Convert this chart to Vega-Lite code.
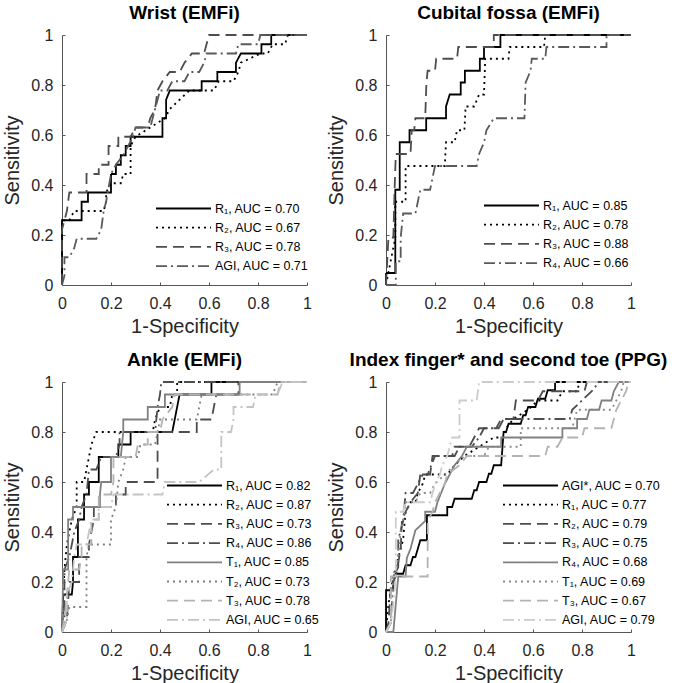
{
  "$schema": "https://vega.github.io/schema/vega-lite/v6.json",
  "background": "white",
  "padding": {"left": 2, "top": 4, "right": 4, "bottom": 2},
  "datasets": {
    "labels": [
      {"s": "W1", "p": "W", "label": "R₁, AUC = 0.70"},
      {"s": "W2", "p": "W", "label": "R₂, AUC = 0.67"},
      {"s": "W3", "p": "W", "label": "R₃, AUC = 0.78"},
      {"s": "W4", "p": "W", "label": "AGI, AUC = 0.71"},
      {"s": "C1", "p": "C", "label": "R₁, AUC = 0.85"},
      {"s": "C2", "p": "C", "label": "R₂, AUC = 0.78"},
      {"s": "C3", "p": "C", "label": "R₃, AUC = 0.88"},
      {"s": "C4", "p": "C", "label": "R₄, AUC = 0.66"},
      {"s": "A1", "p": "A", "label": "R₁, AUC = 0.82"},
      {"s": "A2", "p": "A", "label": "R₂, AUC = 0.87"},
      {"s": "A3", "p": "A", "label": "R₃, AUC = 0.73"},
      {"s": "A4", "p": "A", "label": "R₄, AUC = 0.86"},
      {"s": "A5", "p": "A", "label": "T₁, AUC = 0.85"},
      {"s": "A6", "p": "A", "label": "T₂, AUC = 0.73"},
      {"s": "A7", "p": "A", "label": "T₃, AUC = 0.78"},
      {"s": "A8", "p": "A", "label": "AGI, AUC = 0.65"},
      {"s": "P1", "p": "P", "label": "AGI*, AUC = 0.70"},
      {"s": "P2", "p": "P", "label": "R₁, AUC = 0.77"},
      {"s": "P3", "p": "P", "label": "R₂, AUC = 0.79"},
      {"s": "P4", "p": "P", "label": "R₃, AUC = 0.75"},
      {"s": "P5", "p": "P", "label": "R₄, AUC = 0.68"},
      {"s": "P6", "p": "P", "label": "T₁, AUC = 0.69"},
      {"s": "P7", "p": "P", "label": "T₃, AUC = 0.67"},
      {"s": "P8", "p": "P", "label": "AGI, AUC = 0.79"}
    ],
    "roc": [
      {"s":"W1","x":0,"y":0},{"s":"W1","x":0,"y":0.259},{"s":"W1","x":0.08,"y":0.259},{"s":"W1","x":0.08,"y":0.333},{"s":"W1","x":0.106,"y":0.333},{"s":"W1","x":0.106,"y":0.37},{"s":"W1","x":0.2,"y":0.37},{"s":"W1","x":0.2,"y":0.444},{"s":"W1","x":0.22,"y":0.444},{"s":"W1","x":0.22,"y":0.481},{"s":"W1","x":0.24,"y":0.481},{"s":"W1","x":0.24,"y":0.519},{"s":"W1","x":0.26,"y":0.519},{"s":"W1","x":0.26,"y":0.556},{"s":"W1","x":0.28,"y":0.556},{"s":"W1","x":0.28,"y":0.593},{"s":"W1","x":0.41,"y":0.593},{"s":"W1","x":0.41,"y":0.667},{"s":"W1","x":0.425,"y":0.667},{"s":"W1","x":0.425,"y":0.741},{"s":"W1","x":0.44,"y":0.778},{"s":"W1","x":0.57,"y":0.778},{"s":"W1","x":0.57,"y":0.815},{"s":"W1","x":0.634,"y":0.815},{"s":"W1","x":0.634,"y":0.852},{"s":"W1","x":0.71,"y":0.852},{"s":"W1","x":0.71,"y":0.889},{"s":"W1","x":0.73,"y":0.926},{"s":"W1","x":0.814,"y":0.926},{"s":"W1","x":0.814,"y":0.963},{"s":"W1","x":0.854,"y":0.963},{"s":"W1","x":0.854,"y":1},{"s":"W1","x":1,"y":1},
      {"s":"W2","x":0,"y":0},{"s":"W2","x":0,"y":0.259},{"s":"W2","x":0.03,"y":0.259},{"s":"W2","x":0.05,"y":0.296},{"s":"W2","x":0.17,"y":0.296},{"s":"W2","x":0.18,"y":0.333},{"s":"W2","x":0.18,"y":0.37},{"s":"W2","x":0.2,"y":0.407},{"s":"W2","x":0.24,"y":0.407},{"s":"W2","x":0.25,"y":0.444},{"s":"W2","x":0.28,"y":0.444},{"s":"W2","x":0.28,"y":0.556},{"s":"W2","x":0.3,"y":0.593},{"s":"W2","x":0.36,"y":0.63},{"s":"W2","x":0.42,"y":0.667},{"s":"W2","x":0.44,"y":0.704},{"s":"W2","x":0.48,"y":0.741},{"s":"W2","x":0.52,"y":0.778},{"s":"W2","x":0.62,"y":0.778},{"s":"W2","x":0.64,"y":0.815},{"s":"W2","x":0.7,"y":0.815},{"s":"W2","x":0.72,"y":0.852},{"s":"W2","x":0.73,"y":0.889},{"s":"W2","x":0.81,"y":0.926},{"s":"W2","x":0.84,"y":0.926},{"s":"W2","x":0.86,"y":0.963},{"s":"W2","x":0.91,"y":0.963},{"s":"W2","x":0.922,"y":1},{"s":"W2","x":1,"y":1},
      {"s":"W3","x":0,"y":0},{"s":"W3","x":0,"y":0.222},{"s":"W3","x":0.02,"y":0.296},{"s":"W3","x":0.03,"y":0.37},{"s":"W3","x":0.1,"y":0.37},{"s":"W3","x":0.1,"y":0.444},{"s":"W3","x":0.15,"y":0.444},{"s":"W3","x":0.15,"y":0.481},{"s":"W3","x":0.19,"y":0.481},{"s":"W3","x":0.19,"y":0.556},{"s":"W3","x":0.23,"y":0.556},{"s":"W3","x":0.23,"y":0.593},{"s":"W3","x":0.28,"y":0.593},{"s":"W3","x":0.3,"y":0.63},{"s":"W3","x":0.35,"y":0.63},{"s":"W3","x":0.36,"y":0.667},{"s":"W3","x":0.38,"y":0.704},{"s":"W3","x":0.39,"y":0.778},{"s":"W3","x":0.41,"y":0.815},{"s":"W3","x":0.44,"y":0.852},{"s":"W3","x":0.48,"y":0.852},{"s":"W3","x":0.5,"y":0.889},{"s":"W3","x":0.53,"y":0.926},{"s":"W3","x":0.58,"y":0.926},{"s":"W3","x":0.59,"y":0.963},{"s":"W3","x":0.6,"y":1},{"s":"W3","x":1,"y":1},
      {"s":"W4","x":0,"y":0},{"s":"W4","x":0.01,"y":0.037},{"s":"W4","x":0.01,"y":0.111},{"s":"W4","x":0.03,"y":0.111},{"s":"W4","x":0.05,"y":0.148},{"s":"W4","x":0.06,"y":0.185},{"s":"W4","x":0.14,"y":0.185},{"s":"W4","x":0.16,"y":0.222},{"s":"W4","x":0.17,"y":0.296},{"s":"W4","x":0.18,"y":0.333},{"s":"W4","x":0.2,"y":0.444},{"s":"W4","x":0.22,"y":0.481},{"s":"W4","x":0.25,"y":0.519},{"s":"W4","x":0.27,"y":0.556},{"s":"W4","x":0.29,"y":0.593},{"s":"W4","x":0.3,"y":0.63},{"s":"W4","x":0.36,"y":0.63},{"s":"W4","x":0.38,"y":0.704},{"s":"W4","x":0.39,"y":0.741},{"s":"W4","x":0.4,"y":0.778},{"s":"W4","x":0.43,"y":0.778},{"s":"W4","x":0.45,"y":0.815},{"s":"W4","x":0.5,"y":0.815},{"s":"W4","x":0.52,"y":0.852},{"s":"W4","x":0.56,"y":0.852},{"s":"W4","x":0.58,"y":0.889},{"s":"W4","x":0.59,"y":0.926},{"s":"W4","x":0.71,"y":0.926},{"s":"W4","x":0.72,"y":0.963},{"s":"W4","x":0.8,"y":0.963},{"s":"W4","x":0.81,"y":1},{"s":"W4","x":1,"y":1},
      {"s":"C1","x":0,"y":0},{"s":"C1","x":0,"y":0.048},{"s":"C1","x":0.038,"y":0.048},{"s":"C1","x":0.038,"y":0.381},{"s":"C1","x":0.056,"y":0.381},{"s":"C1","x":0.056,"y":0.571},{"s":"C1","x":0.096,"y":0.571},{"s":"C1","x":0.096,"y":0.619},{"s":"C1","x":0.164,"y":0.619},{"s":"C1","x":0.164,"y":0.667},{"s":"C1","x":0.245,"y":0.667},{"s":"C1","x":0.245,"y":0.714},{"s":"C1","x":0.26,"y":0.762},{"s":"C1","x":0.305,"y":0.762},{"s":"C1","x":0.305,"y":0.81},{"s":"C1","x":0.322,"y":0.81},{"s":"C1","x":0.322,"y":0.857},{"s":"C1","x":0.383,"y":0.857},{"s":"C1","x":0.383,"y":0.905},{"s":"C1","x":0.4,"y":0.905},{"s":"C1","x":0.4,"y":0.952},{"s":"C1","x":0.467,"y":0.952},{"s":"C1","x":0.467,"y":1},{"s":"C1","x":1,"y":1},
      {"s":"C2","x":0,"y":0},{"s":"C2","x":0.038,"y":0.19},{"s":"C2","x":0.038,"y":0.333},{"s":"C2","x":0.08,"y":0.333},{"s":"C2","x":0.08,"y":0.476},{"s":"C2","x":0.24,"y":0.476},{"s":"C2","x":0.245,"y":0.571},{"s":"C2","x":0.28,"y":0.571},{"s":"C2","x":0.29,"y":0.619},{"s":"C2","x":0.32,"y":0.619},{"s":"C2","x":0.325,"y":0.714},{"s":"C2","x":0.36,"y":0.714},{"s":"C2","x":0.38,"y":0.762},{"s":"C2","x":0.4,"y":0.762},{"s":"C2","x":0.405,"y":0.905},{"s":"C2","x":0.5,"y":0.905},{"s":"C2","x":0.505,"y":0.952},{"s":"C2","x":0.645,"y":0.952},{"s":"C2","x":0.65,"y":1},{"s":"C2","x":1,"y":1},
      {"s":"C3","x":0,"y":0},{"s":"C3","x":0.01,"y":0.19},{"s":"C3","x":0.03,"y":0.19},{"s":"C3","x":0.035,"y":0.381},{"s":"C3","x":0.04,"y":0.524},{"s":"C3","x":0.1,"y":0.524},{"s":"C3","x":0.105,"y":0.619},{"s":"C3","x":0.115,"y":0.619},{"s":"C3","x":0.12,"y":0.667},{"s":"C3","x":0.16,"y":0.667},{"s":"C3","x":0.165,"y":0.81},{"s":"C3","x":0.17,"y":0.857},{"s":"C3","x":0.2,"y":0.857},{"s":"C3","x":0.205,"y":0.905},{"s":"C3","x":0.29,"y":0.905},{"s":"C3","x":0.295,"y":0.952},{"s":"C3","x":0.44,"y":0.952},{"s":"C3","x":0.44,"y":1},{"s":"C3","x":1,"y":1},
      {"s":"C4","x":0,"y":0},{"s":"C4","x":0.04,"y":0},{"s":"C4","x":0.04,"y":0.095},{"s":"C4","x":0.06,"y":0.095},{"s":"C4","x":0.06,"y":0.19},{"s":"C4","x":0.07,"y":0.286},{"s":"C4","x":0.12,"y":0.286},{"s":"C4","x":0.13,"y":0.333},{"s":"C4","x":0.14,"y":0.381},{"s":"C4","x":0.18,"y":0.381},{"s":"C4","x":0.19,"y":0.429},{"s":"C4","x":0.2,"y":0.476},{"s":"C4","x":0.37,"y":0.476},{"s":"C4","x":0.38,"y":0.524},{"s":"C4","x":0.4,"y":0.571},{"s":"C4","x":0.41,"y":0.619},{"s":"C4","x":0.44,"y":0.667},{"s":"C4","x":0.565,"y":0.667},{"s":"C4","x":0.57,"y":0.81},{"s":"C4","x":0.59,"y":0.857},{"s":"C4","x":0.595,"y":0.905},{"s":"C4","x":0.65,"y":0.905},{"s":"C4","x":0.655,"y":0.952},{"s":"C4","x":0.9,"y":0.952},{"s":"C4","x":0.9,"y":1},{"s":"C4","x":1,"y":1},
      {"s":"A1","x":0,"y":0},{"s":"A1","x":0.005,"y":0.15},{"s":"A1","x":0.04,"y":0.15},{"s":"A1","x":0.045,"y":0.2},{"s":"A1","x":0.045,"y":0.3},{"s":"A1","x":0.065,"y":0.3},{"s":"A1","x":0.065,"y":0.45},{"s":"A1","x":0.09,"y":0.45},{"s":"A1","x":0.09,"y":0.55},{"s":"A1","x":0.11,"y":0.55},{"s":"A1","x":0.11,"y":0.6},{"s":"A1","x":0.15,"y":0.6},{"s":"A1","x":0.15,"y":0.7},{"s":"A1","x":0.23,"y":0.7},{"s":"A1","x":0.23,"y":0.75},{"s":"A1","x":0.28,"y":0.75},{"s":"A1","x":0.28,"y":0.8},{"s":"A1","x":0.45,"y":0.8},{"s":"A1","x":0.46,"y":0.85},{"s":"A1","x":0.47,"y":0.9},{"s":"A1","x":0.48,"y":0.95},{"s":"A1","x":0.61,"y":0.95},{"s":"A1","x":0.61,"y":1},{"s":"A1","x":1,"y":1},
      {"s":"A2","x":0,"y":0},{"s":"A2","x":0.01,"y":0.25},{"s":"A2","x":0.02,"y":0.35},{"s":"A2","x":0.04,"y":0.45},{"s":"A2","x":0.06,"y":0.5},{"s":"A2","x":0.06,"y":0.6},{"s":"A2","x":0.09,"y":0.6},{"s":"A2","x":0.1,"y":0.65},{"s":"A2","x":0.12,"y":0.75},{"s":"A2","x":0.14,"y":0.8},{"s":"A2","x":0.37,"y":0.8},{"s":"A2","x":0.38,"y":0.85},{"s":"A2","x":0.4,"y":0.9},{"s":"A2","x":0.44,"y":0.9},{"s":"A2","x":0.45,"y":0.95},{"s":"A2","x":0.47,"y":0.95},{"s":"A2","x":0.47,"y":1},{"s":"A2","x":1,"y":1},
      {"s":"A3","x":0,"y":0},{"s":"A3","x":0.02,"y":0.05},{"s":"A3","x":0.03,"y":0.2},{"s":"A3","x":0.07,"y":0.2},{"s":"A3","x":0.07,"y":0.3},{"s":"A3","x":0.11,"y":0.3},{"s":"A3","x":0.11,"y":0.35},{"s":"A3","x":0.13,"y":0.45},{"s":"A3","x":0.13,"y":0.5},{"s":"A3","x":0.22,"y":0.5},{"s":"A3","x":0.22,"y":0.55},{"s":"A3","x":0.26,"y":0.55},{"s":"A3","x":0.26,"y":0.6},{"s":"A3","x":0.39,"y":0.6},{"s":"A3","x":0.39,"y":0.8},{"s":"A3","x":0.55,"y":0.8},{"s":"A3","x":0.55,"y":0.85},{"s":"A3","x":0.61,"y":0.85},{"s":"A3","x":0.62,"y":0.9},{"s":"A3","x":0.63,"y":0.95},{"s":"A3","x":0.72,"y":0.95},{"s":"A3","x":0.72,"y":1},{"s":"A3","x":1,"y":1},
      {"s":"A4","x":0,"y":0},{"s":"A4","x":0.01,"y":0.05},{"s":"A4","x":0.01,"y":0.25},{"s":"A4","x":0.03,"y":0.3},{"s":"A4","x":0.05,"y":0.4},{"s":"A4","x":0.07,"y":0.45},{"s":"A4","x":0.08,"y":0.5},{"s":"A4","x":0.1,"y":0.55},{"s":"A4","x":0.11,"y":0.65},{"s":"A4","x":0.14,"y":0.65},{"s":"A4","x":0.16,"y":0.7},{"s":"A4","x":0.22,"y":0.7},{"s":"A4","x":0.235,"y":0.75},{"s":"A4","x":0.235,"y":0.8},{"s":"A4","x":0.38,"y":0.8},{"s":"A4","x":0.385,"y":0.85},{"s":"A4","x":0.39,"y":0.9},{"s":"A4","x":0.4,"y":0.95},{"s":"A4","x":0.405,"y":1},{"s":"A4","x":1,"y":1},
      {"s":"A5","x":0,"y":0},{"s":"A5","x":0.005,"y":0.25},{"s":"A5","x":0.025,"y":0.25},{"s":"A5","x":0.025,"y":0.45},{"s":"A5","x":0.045,"y":0.45},{"s":"A5","x":0.045,"y":0.5},{"s":"A5","x":0.155,"y":0.5},{"s":"A5","x":0.155,"y":0.55},{"s":"A5","x":0.16,"y":0.6},{"s":"A5","x":0.2,"y":0.6},{"s":"A5","x":0.2,"y":0.7},{"s":"A5","x":0.24,"y":0.7},{"s":"A5","x":0.25,"y":0.8},{"s":"A5","x":0.25,"y":0.85},{"s":"A5","x":0.35,"y":0.85},{"s":"A5","x":0.35,"y":0.9},{"s":"A5","x":0.42,"y":0.9},{"s":"A5","x":0.42,"y":0.95},{"s":"A5","x":0.725,"y":0.95},{"s":"A5","x":0.725,"y":1},{"s":"A5","x":1,"y":1},
      {"s":"A6","x":0,"y":0},{"s":"A6","x":0.02,"y":0.05},{"s":"A6","x":0.03,"y":0.1},{"s":"A6","x":0.1,"y":0.1},{"s":"A6","x":0.1,"y":0.3},{"s":"A6","x":0.11,"y":0.35},{"s":"A6","x":0.2,"y":0.35},{"s":"A6","x":0.2,"y":0.45},{"s":"A6","x":0.22,"y":0.5},{"s":"A6","x":0.23,"y":0.6},{"s":"A6","x":0.25,"y":0.65},{"s":"A6","x":0.26,"y":0.7},{"s":"A6","x":0.31,"y":0.7},{"s":"A6","x":0.32,"y":0.75},{"s":"A6","x":0.38,"y":0.75},{"s":"A6","x":0.4,"y":0.85},{"s":"A6","x":0.55,"y":0.85},{"s":"A6","x":0.56,"y":0.9},{"s":"A6","x":0.57,"y":0.95},{"s":"A6","x":0.86,"y":0.95},{"s":"A6","x":0.88,"y":1},{"s":"A6","x":1,"y":1},
      {"s":"A7","x":0,"y":0},{"s":"A7","x":0.01,"y":0.05},{"s":"A7","x":0.02,"y":0.15},{"s":"A7","x":0.03,"y":0.25},{"s":"A7","x":0.07,"y":0.25},{"s":"A7","x":0.08,"y":0.3},{"s":"A7","x":0.08,"y":0.35},{"s":"A7","x":0.12,"y":0.35},{"s":"A7","x":0.12,"y":0.45},{"s":"A7","x":0.15,"y":0.45},{"s":"A7","x":0.15,"y":0.55},{"s":"A7","x":0.2,"y":0.55},{"s":"A7","x":0.21,"y":0.6},{"s":"A7","x":0.21,"y":0.7},{"s":"A7","x":0.3,"y":0.7},{"s":"A7","x":0.31,"y":0.75},{"s":"A7","x":0.35,"y":0.75},{"s":"A7","x":0.35,"y":0.8},{"s":"A7","x":0.4,"y":0.8},{"s":"A7","x":0.41,"y":0.85},{"s":"A7","x":0.45,"y":0.9},{"s":"A7","x":0.46,"y":0.95},{"s":"A7","x":0.88,"y":0.95},{"s":"A7","x":0.89,"y":1},{"s":"A7","x":1,"y":1},
      {"s":"A8","x":0,"y":0},{"s":"A8","x":0.02,"y":0.05},{"s":"A8","x":0.02,"y":0.15},{"s":"A8","x":0.04,"y":0.2},{"s":"A8","x":0.05,"y":0.3},{"s":"A8","x":0.06,"y":0.35},{"s":"A8","x":0.1,"y":0.35},{"s":"A8","x":0.12,"y":0.45},{"s":"A8","x":0.15,"y":0.45},{"s":"A8","x":0.15,"y":0.5},{"s":"A8","x":0.2,"y":0.5},{"s":"A8","x":0.21,"y":0.55},{"s":"A8","x":0.41,"y":0.55},{"s":"A8","x":0.42,"y":0.6},{"s":"A8","x":0.56,"y":0.6},{"s":"A8","x":0.62,"y":0.65},{"s":"A8","x":0.65,"y":0.65},{"s":"A8","x":0.65,"y":0.8},{"s":"A8","x":0.69,"y":0.8},{"s":"A8","x":0.7,"y":0.85},{"s":"A8","x":0.7,"y":0.9},{"s":"A8","x":0.78,"y":0.9},{"s":"A8","x":0.79,"y":0.95},{"s":"A8","x":0.88,"y":0.95},{"s":"A8","x":0.9,"y":1},{"s":"A8","x":1,"y":1},
      {"s":"P1","x":0,"y":0},{"s":"P1","x":0,"y":0.167},{"s":"P1","x":0.03,"y":0.167},{"s":"P1","x":0.03,"y":0.2},{"s":"P1","x":0.04,"y":0.233},{"s":"P1","x":0.07,"y":0.233},{"s":"P1","x":0.08,"y":0.267},{"s":"P1","x":0.1,"y":0.267},{"s":"P1","x":0.11,"y":0.3},{"s":"P1","x":0.12,"y":0.3},{"s":"P1","x":0.13,"y":0.333},{"s":"P1","x":0.14,"y":0.367},{"s":"P1","x":0.167,"y":0.367},{"s":"P1","x":0.167,"y":0.467},{"s":"P1","x":0.25,"y":0.467},{"s":"P1","x":0.25,"y":0.5},{"s":"P1","x":0.27,"y":0.5},{"s":"P1","x":0.28,"y":0.533},{"s":"P1","x":0.35,"y":0.533},{"s":"P1","x":0.36,"y":0.567},{"s":"P1","x":0.37,"y":0.567},{"s":"P1","x":0.38,"y":0.6},{"s":"P1","x":0.41,"y":0.6},{"s":"P1","x":0.42,"y":0.633},{"s":"P1","x":0.43,"y":0.633},{"s":"P1","x":0.44,"y":0.667},{"s":"P1","x":0.47,"y":0.667},{"s":"P1","x":0.48,"y":0.8},{"s":"P1","x":0.49,"y":0.8},{"s":"P1","x":0.5,"y":0.833},{"s":"P1","x":0.55,"y":0.833},{"s":"P1","x":0.56,"y":0.867},{"s":"P1","x":0.57,"y":0.867},{"s":"P1","x":0.58,"y":0.9},{"s":"P1","x":0.61,"y":0.9},{"s":"P1","x":0.62,"y":0.933},{"s":"P1","x":0.65,"y":0.933},{"s":"P1","x":0.66,"y":0.967},{"s":"P1","x":0.69,"y":0.967},{"s":"P1","x":0.69,"y":1},{"s":"P1","x":1,"y":1},
      {"s":"P2","x":0,"y":0},{"s":"P2","x":0.01,"y":0.111},{"s":"P2","x":0.03,"y":0.222},{"s":"P2","x":0.05,"y":0.296},{"s":"P2","x":0.07,"y":0.37},{"s":"P2","x":0.08,"y":0.481},{"s":"P2","x":0.1,"y":0.519},{"s":"P2","x":0.12,"y":0.519},{"s":"P2","x":0.13,"y":0.556},{"s":"P2","x":0.15,"y":0.593},{"s":"P2","x":0.16,"y":0.63},{"s":"P2","x":0.25,"y":0.63},{"s":"P2","x":0.28,"y":0.667},{"s":"P2","x":0.32,"y":0.704},{"s":"P2","x":0.38,"y":0.741},{"s":"P2","x":0.44,"y":0.778},{"s":"P2","x":0.48,"y":0.778},{"s":"P2","x":0.49,"y":0.815},{"s":"P2","x":0.52,"y":0.852},{"s":"P2","x":0.58,"y":0.889},{"s":"P2","x":0.62,"y":0.926},{"s":"P2","x":0.7,"y":0.926},{"s":"P2","x":0.72,"y":0.963},{"s":"P2","x":0.78,"y":0.963},{"s":"P2","x":0.79,"y":1},{"s":"P2","x":1,"y":1},
      {"s":"P3","x":0,"y":0},{"s":"P3","x":0.01,"y":0.037},{"s":"P3","x":0.02,"y":0.185},{"s":"P3","x":0.04,"y":0.222},{"s":"P3","x":0.06,"y":0.333},{"s":"P3","x":0.065,"y":0.444},{"s":"P3","x":0.08,"y":0.481},{"s":"P3","x":0.1,"y":0.519},{"s":"P3","x":0.13,"y":0.556},{"s":"P3","x":0.14,"y":0.63},{"s":"P3","x":0.18,"y":0.63},{"s":"P3","x":0.19,"y":0.704},{"s":"P3","x":0.27,"y":0.704},{"s":"P3","x":0.28,"y":0.741},{"s":"P3","x":0.34,"y":0.741},{"s":"P3","x":0.36,"y":0.778},{"s":"P3","x":0.38,"y":0.815},{"s":"P3","x":0.45,"y":0.815},{"s":"P3","x":0.47,"y":0.852},{"s":"P3","x":0.52,"y":0.852},{"s":"P3","x":0.53,"y":0.926},{"s":"P3","x":0.62,"y":0.926},{"s":"P3","x":0.64,"y":0.963},{"s":"P3","x":0.81,"y":0.963},{"s":"P3","x":0.82,"y":1},{"s":"P3","x":1,"y":1},
      {"s":"P4","x":0,"y":0},{"s":"P4","x":0.02,"y":0.037},{"s":"P4","x":0.03,"y":0.222},{"s":"P4","x":0.05,"y":0.259},{"s":"P4","x":0.05,"y":0.37},{"s":"P4","x":0.06,"y":0.407},{"s":"P4","x":0.07,"y":0.444},{"s":"P4","x":0.08,"y":0.556},{"s":"P4","x":0.11,"y":0.556},{"s":"P4","x":0.13,"y":0.593},{"s":"P4","x":0.15,"y":0.63},{"s":"P4","x":0.17,"y":0.63},{"s":"P4","x":0.2,"y":0.704},{"s":"P4","x":0.28,"y":0.704},{"s":"P4","x":0.3,"y":0.741},{"s":"P4","x":0.35,"y":0.741},{"s":"P4","x":0.38,"y":0.778},{"s":"P4","x":0.4,"y":0.815},{"s":"P4","x":0.46,"y":0.815},{"s":"P4","x":0.48,"y":0.852},{"s":"P4","x":0.75,"y":0.852},{"s":"P4","x":0.76,"y":0.889},{"s":"P4","x":0.8,"y":0.926},{"s":"P4","x":0.84,"y":0.963},{"s":"P4","x":0.87,"y":1},{"s":"P4","x":1,"y":1},
      {"s":"P5","x":0,"y":0},{"s":"P5","x":0.03,"y":0},{"s":"P5","x":0.04,"y":0.111},{"s":"P5","x":0.05,"y":0.222},{"s":"P5","x":0.08,"y":0.222},{"s":"P5","x":0.085,"y":0.296},{"s":"P5","x":0.1,"y":0.333},{"s":"P5","x":0.12,"y":0.407},{"s":"P5","x":0.16,"y":0.444},{"s":"P5","x":0.16,"y":0.481},{"s":"P5","x":0.2,"y":0.481},{"s":"P5","x":0.21,"y":0.519},{"s":"P5","x":0.24,"y":0.593},{"s":"P5","x":0.26,"y":0.63},{"s":"P5","x":0.28,"y":0.667},{"s":"P5","x":0.31,"y":0.704},{"s":"P5","x":0.33,"y":0.741},{"s":"P5","x":0.47,"y":0.741},{"s":"P5","x":0.47,"y":0.778},{"s":"P5","x":0.72,"y":0.778},{"s":"P5","x":0.72,"y":0.815},{"s":"P5","x":0.78,"y":0.815},{"s":"P5","x":0.78,"y":0.852},{"s":"P5","x":0.82,"y":0.852},{"s":"P5","x":0.83,"y":0.889},{"s":"P5","x":0.87,"y":0.889},{"s":"P5","x":0.88,"y":0.926},{"s":"P5","x":0.92,"y":0.926},{"s":"P5","x":0.93,"y":0.963},{"s":"P5","x":0.95,"y":1},{"s":"P5","x":1,"y":1},
      {"s":"P6","x":0,"y":0},{"s":"P6","x":0.02,"y":0.037},{"s":"P6","x":0.03,"y":0.222},{"s":"P6","x":0.05,"y":0.296},{"s":"P6","x":0.06,"y":0.407},{"s":"P6","x":0.07,"y":0.444},{"s":"P6","x":0.08,"y":0.519},{"s":"P6","x":0.12,"y":0.519},{"s":"P6","x":0.14,"y":0.556},{"s":"P6","x":0.18,"y":0.556},{"s":"P6","x":0.2,"y":0.593},{"s":"P6","x":0.24,"y":0.63},{"s":"P6","x":0.28,"y":0.667},{"s":"P6","x":0.32,"y":0.704},{"s":"P6","x":0.4,"y":0.704},{"s":"P6","x":0.42,"y":0.741},{"s":"P6","x":0.55,"y":0.741},{"s":"P6","x":0.55,"y":0.815},{"s":"P6","x":0.76,"y":0.815},{"s":"P6","x":0.77,"y":0.852},{"s":"P6","x":0.78,"y":0.889},{"s":"P6","x":0.92,"y":0.889},{"s":"P6","x":0.94,"y":0.926},{"s":"P6","x":0.96,"y":0.963},{"s":"P6","x":0.97,"y":1},{"s":"P6","x":1,"y":1},
      {"s":"P7","x":0,"y":0},{"s":"P7","x":0.02,"y":0.037},{"s":"P7","x":0.02,"y":0.222},{"s":"P7","x":0.17,"y":0.222},{"s":"P7","x":0.17,"y":0.444},{"s":"P7","x":0.19,"y":0.481},{"s":"P7","x":0.2,"y":0.519},{"s":"P7","x":0.22,"y":0.556},{"s":"P7","x":0.24,"y":0.593},{"s":"P7","x":0.25,"y":0.63},{"s":"P7","x":0.3,"y":0.667},{"s":"P7","x":0.33,"y":0.704},{"s":"P7","x":0.65,"y":0.704},{"s":"P7","x":0.66,"y":0.741},{"s":"P7","x":0.7,"y":0.741},{"s":"P7","x":0.72,"y":0.778},{"s":"P7","x":0.8,"y":0.778},{"s":"P7","x":0.81,"y":0.815},{"s":"P7","x":0.92,"y":0.815},{"s":"P7","x":0.94,"y":0.889},{"s":"P7","x":0.96,"y":0.926},{"s":"P7","x":0.98,"y":0.963},{"s":"P7","x":0.99,"y":1},{"s":"P7","x":1,"y":1},
      {"s":"P8","x":0,"y":0},{"s":"P8","x":0.02,"y":0.037},{"s":"P8","x":0.03,"y":0.111},{"s":"P8","x":0.04,"y":0.222},{"s":"P8","x":0.04,"y":0.481},{"s":"P8","x":0.07,"y":0.481},{"s":"P8","x":0.08,"y":0.519},{"s":"P8","x":0.18,"y":0.519},{"s":"P8","x":0.19,"y":0.556},{"s":"P8","x":0.2,"y":0.593},{"s":"P8","x":0.22,"y":0.63},{"s":"P8","x":0.23,"y":0.667},{"s":"P8","x":0.25,"y":0.704},{"s":"P8","x":0.26,"y":0.741},{"s":"P8","x":0.27,"y":0.778},{"s":"P8","x":0.3,"y":0.778},{"s":"P8","x":0.3,"y":0.926},{"s":"P8","x":0.37,"y":0.926},{"s":"P8","x":0.38,"y":1},{"s":"P8","x":1,"y":1}
    ]
  },
  "data": {"name": "roc"},
  "config": {
    "font": "Liberation Sans",
    "view": {"stroke": null},
    "axis": {"grid": false, "domainColor": "#555555", "domainWidth": 1, "tickColor": "#555555", "tickSize": -3, "labelFontSize": 16, "labelColor": "#262626", "titleFontSize": 20, "titleFontWeight": "normal", "titleColor": "#262626", "labelFont": "Liberation Sans", "titleFont": "Liberation Sans", "labelFlush": false, "labelOverlap": false},
    "axisX": {"labelPadding": 13, "titlePadding": 5},
    "axisY": {"labelPadding": 12, "titlePadding": 8},
    "title": {"fontSize": 19, "fontWeight": "bold", "font": "Liberation Sans", "color": "#000000", "offset": 0, "anchor": "middle", "frame": "group"},
    "legend": {"orient": "none", "title": null, "symbolType": "M-9,0H1", "symbolSize": 121, "symbolStrokeWidth": 1.8, "labelFontSize": 12.5, "labelFont": "Liberation Sans", "labelColor": "#000000", "rowPadding": 6.2, "labelOffset": 3, "padding": 0, "labelLimit": 300}
  },
  "columns": 2,
  "spacing": {"row": 97, "column": 79},
  "bounds": "flush",
  "resolve": {"scale": {"color": "independent", "strokeDash": "independent"}, "legend": {"color": "independent", "strokeDash": "independent"}},
  "concat": [
    {
      "title": "Wrist (EMFi)",
      "width": 245, "height": 250,
      "transform": [{"lookup": "s", "from": {"data": {"name": "labels"}, "key": "s", "fields": ["p", "label"]}}, {"filter": "datum.p === 'W'"}],
      "mark": {"type": "line", "strokeWidth": 1.8, "strokeCap": "butt"},
      "encoding": {
        "x": {"field": "x", "type": "quantitative", "scale": {"domain": [0, 1]}, "axis": {"title": "1-Specificity", "values": [0, 0.2, 0.4, 0.6, 0.8, 1], "format": "~g"}},
        "y": {"field": "y", "type": "quantitative", "scale": {"domain": [0, 1]}, "axis": {"title": "Sensitivity", "values": [0, 0.2, 0.4, 0.6, 0.8, 1], "format": "~g"}},
        "color": {"field": "label", "type": "nominal", "scale": {"domain": ["R₁, AUC = 0.70", "R₂, AUC = 0.67", "R₃, AUC = 0.78", "AGI, AUC = 0.71"], "range": ["#000000", "#000000", "#4d4d4d", "#5a5a5a"]}, "legend": {"legendX": 137, "legendY": 167}},
        "strokeDash": {"field": "label", "type": "nominal", "scale": {"domain": ["R₁, AUC = 0.70", "R₂, AUC = 0.67", "R₃, AUC = 0.78", "AGI, AUC = 0.71"], "range": [[1, 0], [2, 4], [11, 6], [11, 4, 2, 4]]}, "legend": {"legendX": 137, "legendY": 167}},
        "order": [{"field": "x", "type": "quantitative"}, {"field": "y", "type": "quantitative"}]
      }
    },
    {
      "title": "Cubital fossa (EMFi)",
      "width": 245, "height": 250,
      "transform": [{"lookup": "s", "from": {"data": {"name": "labels"}, "key": "s", "fields": ["p", "label"]}}, {"filter": "datum.p === 'C'"}],
      "mark": {"type": "line", "strokeWidth": 1.8, "strokeCap": "butt"},
      "encoding": {
        "x": {"field": "x", "type": "quantitative", "scale": {"domain": [0, 1]}, "axis": {"title": "1-Specificity", "values": [0, 0.2, 0.4, 0.6, 0.8, 1], "format": "~g"}},
        "y": {"field": "y", "type": "quantitative", "scale": {"domain": [0, 1]}, "axis": {"title": "Sensitivity", "values": [0, 0.2, 0.4, 0.6, 0.8, 1], "format": "~g"}},
        "color": {"field": "label", "type": "nominal", "scale": {"domain": ["R₁, AUC = 0.85", "R₂, AUC = 0.78", "R₃, AUC = 0.88", "R₄, AUC = 0.66"], "range": ["#000000", "#000000", "#4d4d4d", "#5a5a5a"]}, "legend": {"legendX": 141, "legendY": 164}},
        "strokeDash": {"field": "label", "type": "nominal", "scale": {"domain": ["R₁, AUC = 0.85", "R₂, AUC = 0.78", "R₃, AUC = 0.88", "R₄, AUC = 0.66"], "range": [[1, 0], [2, 4], [11, 6], [11, 4, 2, 4]]}, "legend": {"legendX": 141, "legendY": 164}},
        "order": [{"field": "x", "type": "quantitative"}, {"field": "y", "type": "quantitative"}]
      }
    },
    {
      "title": "Ankle (EMFi)",
      "width": 245, "height": 250,
      "transform": [{"lookup": "s", "from": {"data": {"name": "labels"}, "key": "s", "fields": ["p", "label"]}}, {"filter": "datum.p === 'A'"}],
      "mark": {"type": "line", "strokeWidth": 1.8, "strokeCap": "butt"},
      "encoding": {
        "x": {"field": "x", "type": "quantitative", "scale": {"domain": [0, 1]}, "axis": {"title": "1-Specificity", "values": [0, 0.2, 0.4, 0.6, 0.8, 1], "format": "~g"}},
        "y": {"field": "y", "type": "quantitative", "scale": {"domain": [0, 1]}, "axis": {"title": "Sensitivity", "values": [0, 0.2, 0.4, 0.6, 0.8, 1], "format": "~g"}},
        "color": {"field": "label", "type": "nominal", "scale": {"domain": ["R₁, AUC = 0.82", "R₂, AUC = 0.87", "R₃, AUC = 0.73", "R₄, AUC = 0.86", "T₁, AUC = 0.85", "T₂, AUC = 0.73", "T₃, AUC = 0.78", "AGI, AUC = 0.65"], "range": ["#000000", "#000000", "#4d4d4d", "#4d4d4d", "#808080", "#808080", "#b3b3b3", "#c4c4c4"]}, "legend": {"legendX": 148, "legendY": 97}},
        "strokeDash": {"field": "label", "type": "nominal", "scale": {"domain": ["R₁, AUC = 0.82", "R₂, AUC = 0.87", "R₃, AUC = 0.73", "R₄, AUC = 0.86", "T₁, AUC = 0.85", "T₂, AUC = 0.73", "T₃, AUC = 0.78", "AGI, AUC = 0.65"], "range": [[1, 0], [2, 4], [11, 6], [11, 4, 2, 4], [1, 0], [2, 4], [11, 6], [11, 4, 2, 4]]}, "legend": {"legendX": 148, "legendY": 97}},
        "order": [{"field": "x", "type": "quantitative"}, {"field": "y", "type": "quantitative"}]
      }
    },
    {
      "title": "Index finger* and second toe (PPG)",
      "width": 245, "height": 250,
      "transform": [{"lookup": "s", "from": {"data": {"name": "labels"}, "key": "s", "fields": ["p", "label"]}}, {"filter": "datum.p === 'P'"}],
      "mark": {"type": "line", "strokeWidth": 1.8, "strokeCap": "butt"},
      "encoding": {
        "x": {"field": "x", "type": "quantitative", "scale": {"domain": [0, 1]}, "axis": {"title": "1-Specificity", "values": [0, 0.2, 0.4, 0.6, 0.8, 1], "format": "~g"}},
        "y": {"field": "y", "type": "quantitative", "scale": {"domain": [0, 1]}, "axis": {"title": "Sensitivity", "values": [0, 0.2, 0.4, 0.6, 0.8, 1], "format": "~g"}},
        "color": {"field": "label", "type": "nominal", "scale": {"domain": ["AGI*, AUC = 0.70", "R₁, AUC = 0.77", "R₂, AUC = 0.79", "R₃, AUC = 0.75", "R₄, AUC = 0.68", "T₁, AUC = 0.69", "T₃, AUC = 0.67", "AGI, AUC = 0.79"], "range": ["#000000", "#000000", "#4d4d4d", "#4d4d4d", "#808080", "#8c8c8c", "#b3b3b3", "#cccccc"]}, "legend": {"legendX": 160, "legendY": 97}},
        "strokeDash": {"field": "label", "type": "nominal", "scale": {"domain": ["AGI*, AUC = 0.70", "R₁, AUC = 0.77", "R₂, AUC = 0.79", "R₃, AUC = 0.75", "R₄, AUC = 0.68", "T₁, AUC = 0.69", "T₃, AUC = 0.67", "AGI, AUC = 0.79"], "range": [[1, 0], [2, 4], [11, 6], [11, 4, 2, 4], [1, 0], [2, 4], [11, 6], [11, 4, 2, 4]]}, "legend": {"legendX": 160, "legendY": 97}},
        "order": [{"field": "x", "type": "quantitative"}, {"field": "y", "type": "quantitative"}]
      }
    }
  ]
}
